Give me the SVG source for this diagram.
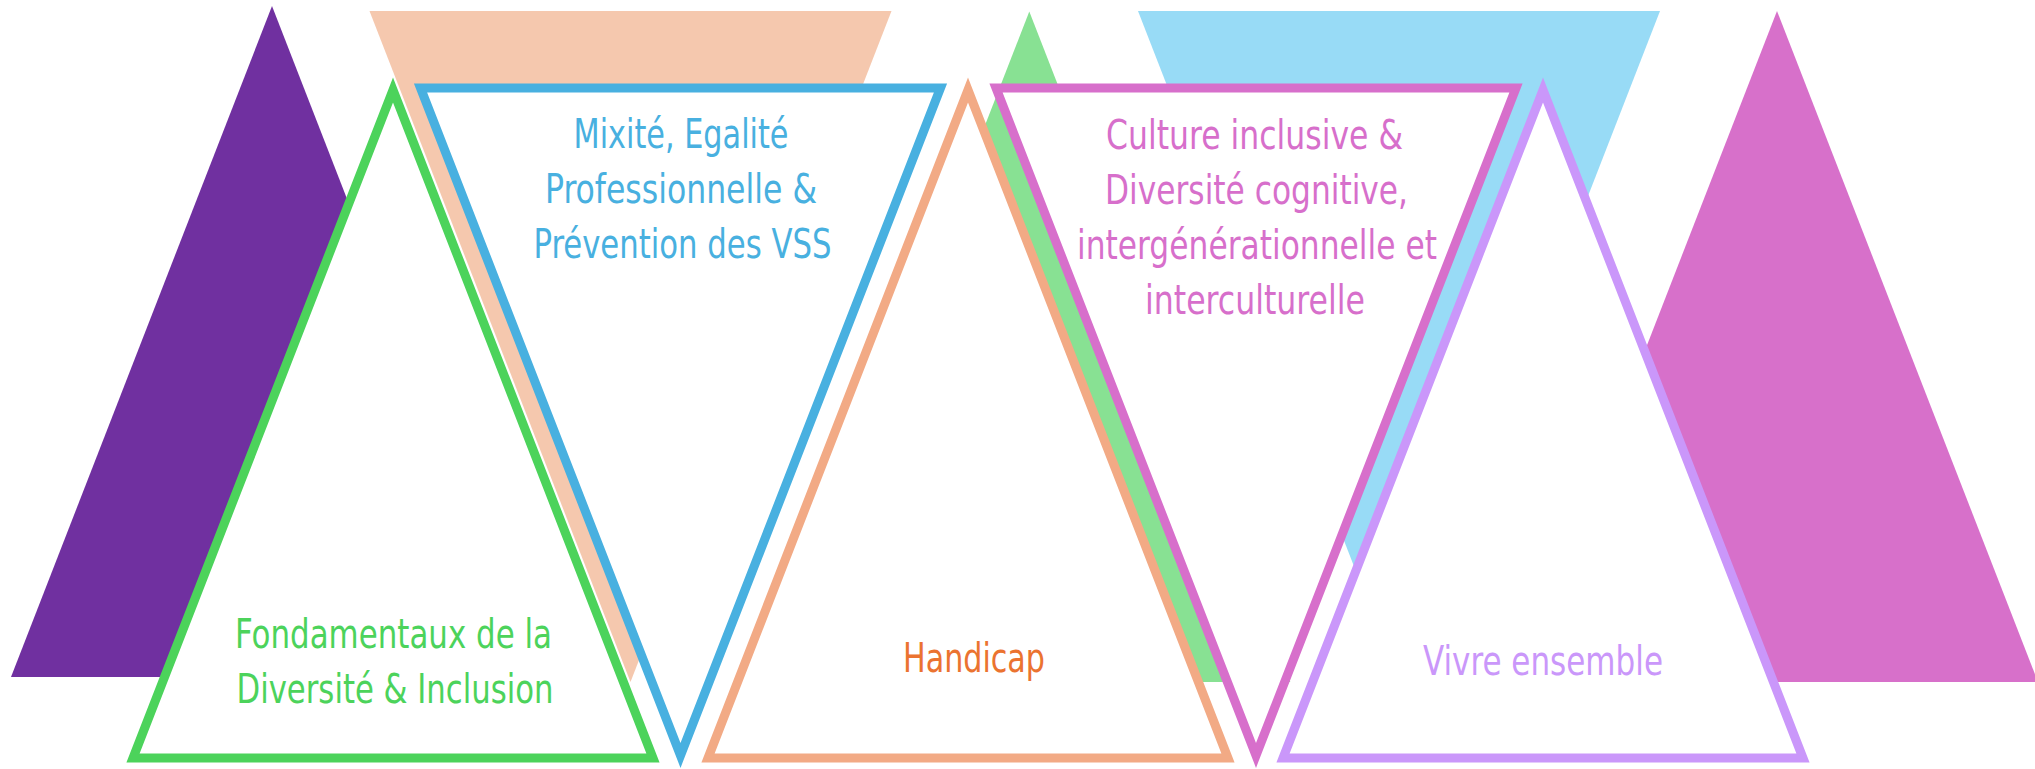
<svg xmlns="http://www.w3.org/2000/svg" width="2035" height="769" viewBox="0 0 2035 769">
  <style>
    .frame { fill: #FFFFFF; stroke-width: 9; stroke-linejoin: miter; stroke-miterlimit: 10; }
    .lbl { font-family: "Liberation Sans Narrow", "DejaVu Sans Condensed", "Liberation Sans", sans-serif; font-size: 41px; text-anchor: middle; }
  </style>
  <rect x="0" y="0" width="2035" height="769" fill="#FFFFFF"/>
  <g id="decor">
    <polygon points="272,6 533,677 11,677" fill="#7030A0"/>
    <polygon points="369.5,11 891.5,11 630.5,682" fill="#F5C8AE"/>
    <polygon points="1029.3,11.5 1290.3,682 768.3,682" fill="#88E193"/>
    <polygon points="1138,11 1660,11 1399,682" fill="#98DBF6"/>
    <polygon points="1777,11 2038,682 1516,682" fill="#D770CA"/>
  </g>
  <g id="node-fondamentaux">
    <polygon class="frame" points="393,90 653,758 133,758" stroke="#4CD35B"/>
    <text class="lbl" fill="#4CD35B" x="393.5" y="648" textLength="317" lengthAdjust="spacingAndGlyphs">Fondamentaux de la</text>
    <text class="lbl" fill="#4CD35B" x="395" y="703" textLength="317" lengthAdjust="spacingAndGlyphs">Diversité &amp; Inclusion</text>
  </g>
  <g id="node-mixite">
    <polygon class="frame" points="420.5,88 940.5,88 680.5,755.5" stroke="#48B0E0"/>
    <text class="lbl" fill="#48B0E0" x="681" y="148" textLength="215" lengthAdjust="spacingAndGlyphs">Mixité, Egalité</text>
    <text class="lbl" fill="#48B0E0" x="681" y="203" textLength="272" lengthAdjust="spacingAndGlyphs">Professionnelle &amp;</text>
    <text class="lbl" fill="#48B0E0" x="682.5" y="258" textLength="298" lengthAdjust="spacingAndGlyphs">Prévention des VSS</text>
  </g>
  <g id="node-handicap">
    <polygon class="frame" points="968,90 1228,758 708,758" stroke="#F2AA85"/>
    <text class="lbl" fill="#EB7330" x="974" y="672" textLength="142" lengthAdjust="spacingAndGlyphs">Handicap</text>
  </g>
  <g id="node-culture">
    <polygon class="frame" points="996,88 1516,88 1256,755.5" stroke="#D76FCB"/>
    <text class="lbl" fill="#D76FCB" x="1254.5" y="149" textLength="297" lengthAdjust="spacingAndGlyphs">Culture inclusive &amp;</text>
    <text class="lbl" fill="#D76FCB" x="1256.5" y="204" textLength="303" lengthAdjust="spacingAndGlyphs">Diversité cognitive,</text>
    <text class="lbl" fill="#D76FCB" x="1257" y="259" textLength="360" lengthAdjust="spacingAndGlyphs">intergénérationnelle et</text>
    <text class="lbl" fill="#D76FCB" x="1255" y="314" textLength="220" lengthAdjust="spacingAndGlyphs">interculturelle</text>
  </g>
  <g id="node-vivre">
    <polygon class="frame" points="1543,90 1803,758 1283,758" stroke="#CA97FA"/>
    <text class="lbl" fill="#CA97FA" x="1543" y="675" textLength="240" lengthAdjust="spacingAndGlyphs">Vivre ensemble</text>
  </g>
</svg>
